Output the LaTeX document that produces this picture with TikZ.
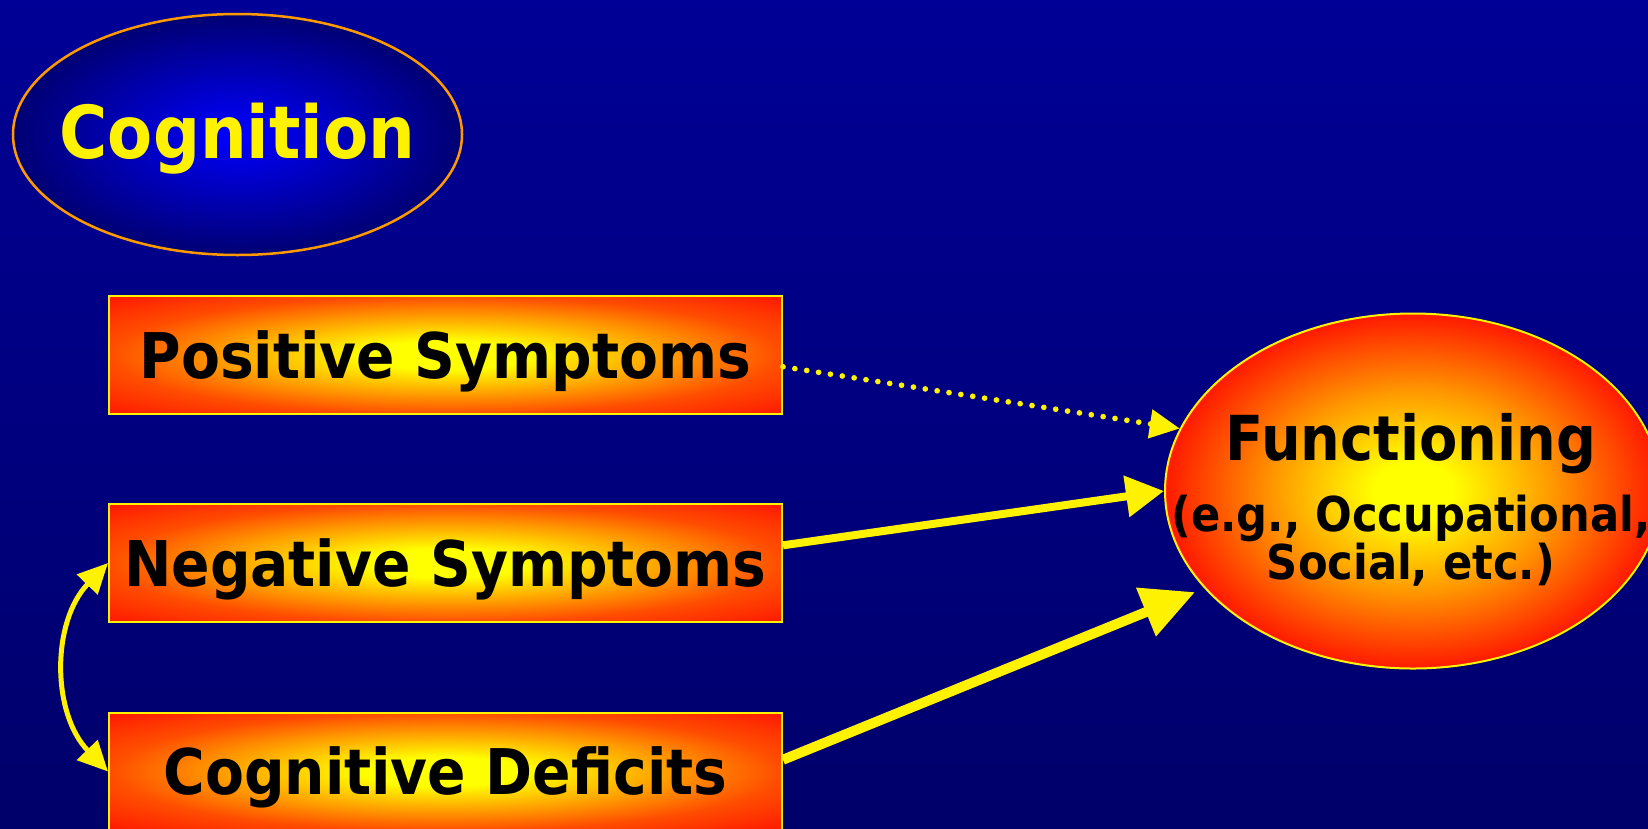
\documentclass[tikz,border=0pt]{standalone}
\usepackage{fontspec}
\setmainfont{DejaVu Sans Condensed}
\usetikzlibrary{arrows.meta,shapes.geometric}

\definecolor{fondoarriba}{RGB}{0,0,150}
\definecolor{fondoabajo}{RGB}{0,0,106}
\definecolor{borde}{RGB}{255,153,0}
\pgfdeclareradialshading{brillo}{\pgfpoint{0bp}{0bp}}{rgb(0bp)=(1,1,0); rgb(4bp)=(1,1,0); rgb(14bp)=(1,0.6,0); rgb(25bp)=(1,0.1,0); rgb(50bp)=(1,0.1,0)}
\pgfdeclareradialshading{brillocaja}{\pgfpoint{0bp}{0bp}}{rgb(0bp)=(1,1,0); rgb(6bp)=(1,1,0); rgb(17bp)=(1,0.6,0); rgb(25bp)=(1,0.3,0); rgb(35bp)=(1,0.1,0); rgb(50bp)=(1,0.1,0)}
\pgfdeclareradialshading{brilloazul}{\pgfpoint{0bp}{0bp}}{rgb(0bp)=(0,0,1); rgb(25bp)=(0,0,0.45); rgb(50bp)=(0,0,0.45)}

\begin{document}
\begin{tikzpicture}[
    x=1pt,
    y=-1pt,
    >={Triangle[length=30pt,width=28pt]},
    sintoma/.style={
        draw=yellow,
        line width=2pt,
        shade,
        shading=brillocaja,
        minimum width=673pt,
        minimum height=118pt,
        inner sep=0pt,
        text height=46pt,
        text depth=0pt,
        font=\fontsize{63}{70}\selectfont\bfseries
    },
    resultado/.style={
        ellipse,
        draw=yellow,
        line width=2pt,
        shade,
        shading=brillo,
        minimum width=496pt,
        minimum height=355pt,
        inner sep=0pt
    },
    cognicion/.style={
        ellipse,
        draw=borde,
        line width=2.5pt,
        shade,
        shading=brilloazul,
        minimum width=449pt,
        minimum height=241pt,
        inner sep=0pt
    },
    flecha/.style={draw=yellow, line width=8pt}
]
    \clip (0,0) rectangle (1648,828);
    \fill[top color=fondoarriba, bottom color=fondoabajo] (0,0) rectangle (1648,828);

    \node[cognicion] (cognition) at (237.5,134.5) {};
    \node[anchor=base, inner sep=0pt, text=yellow,
          font=\fontsize{73}{80}\selectfont\bfseries] (cognition-txt) at (237.5,158) {Cognition};

    \node[sintoma] (positive) at (445.5,355) {Positive Symptoms};
    \node[sintoma] (negative) at (445.5,563) {Negative Symptoms};
    \node[sintoma] (deficits) at (445.5,771.5) {Cognitive Deficits};

    \node[resultado] (functioning) at (1413,491) {};
    \node[align=center, inner sep=0pt, font=\fontsize{48}{48}\selectfont\bfseries] (functioning-txt) at (1411,500)
        {{\fontsize{62}{62}\selectfont Functioning}\\[20pt]
         (e.g., Occupational,\\
         Social, etc.)};

    \draw[->, draw=yellow, line width=5.7pt, line cap=round, dash pattern=on 0pt off 12pt]
        (positive.-2.7) -- (functioning.165.3);
    \draw[-{Triangle[length=38pt,width=40pt]}, flecha] (negative.3.6) -- (functioning.180.7);
    \draw[-{Triangle[length=53pt,width=50pt]}, flecha, line width=10pt, shorten >=10pt]
        (deficits.2.7) -- (functioning.205);
    \draw[<->, draw=yellow, line width=5pt] (negative.west) to[bend right=44] (deficits.west);
\end{tikzpicture}
\end{document}
